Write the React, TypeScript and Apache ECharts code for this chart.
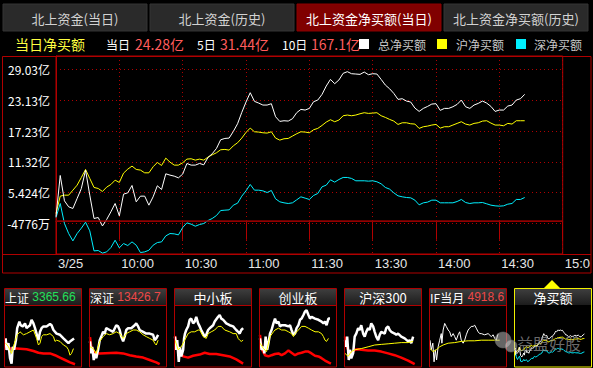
import React, { useEffect, useRef } from 'react';
import * as echarts from 'echarts';

// ---------- main chart data (亿元), sampled every 2 trading minutes from 9:30 ----------
const MAIN_MINUTES = Array.from({ length: 112 }, (_, i) => i * 2);
const TOTAL_NET = [
  0.8, 8.7, 3.83, 2.68, 2.36, 4.28, 6.2, 9.73, 4.92, 0.44, 0.63, -1.0, 0.25, 1.72, 3.32, 0.95,
  5.11, 5.37, 6.78, 3.64, 4.73, 4.73, 3.0, 4.6, 6.72, 6.01, 9.02, 8.77, 8.57, 8.25, 8.96, 11.0,
  10.69, 10.69, 11.01, 10.75, 12.16, 12.87, 13.89, 15.56, 15.81, 15.88, 17.16, 18.63, 20.81, 22.8, 24.59, 22.93,
  22.6, 22.22, 22.22, 22.48, 19.98, 19.08, 19.21, 19.15, 19.59, 20.75, 21.39, 21.26, 21.58, 22.86, 23.18, 24.27,
  25.87, 27.15, 26.32, 27.03, 28.31, 28.63, 28.24, 28.18, 28.11, 28.56, 28.05, 28.24, 28.18, 27.15, 26.06, 25.36,
  24.46, 23.31, 23.44, 22.99, 22.8, 21.64, 21.0, 21.58, 21.96, 22.41, 22.48, 21.2, 21.58, 21.58, 21.9, 22.35,
  23.18, 21.9, 21.58, 22.22, 22.54, 22.99, 22.6, 21.96, 21.0, 21.26, 21.26, 22.03, 22.22, 23.18, 23.44, 24.28,
];
const SH_NET = [
  1.4, 4.73, 4.92, 4.92, 5.88, 6.84, 8.32, 9.86, 8.13, 6.4, 6.2, 5.63, 6.46, 6.97, 7.8, 7.36,
  9.15, 9.92, 10.5, 9.86, 9.73, 9.21, 9.21, 10.37, 11.2, 10.62, 12.03, 11.26, 10.69, 10.69, 11.14, 11.84,
  11.91, 11.65, 11.84, 11.65, 12.23, 12.67, 13.06, 13.64, 13.7, 13.57, 14.4, 14.98, 15.88, 16.97, 17.8, 17.09,
  17.03, 16.9, 16.84, 17.09, 15.88, 15.49, 15.75, 15.81, 16.26, 16.71, 17.09, 17.03, 16.9, 17.48, 17.74, 18.31,
  18.95, 19.4, 19.02, 19.34, 20.17, 20.3, 20.17, 20.3, 20.55, 20.75, 20.62, 20.68, 20.75, 20.17, 19.85, 19.47,
  19.14, 18.5, 18.82, 18.82, 18.63, 18.57, 17.74, 18.06, 18.18, 18.38, 18.5, 17.8, 18.06, 18.06, 18.38, 18.7,
  19.02, 18.57, 18.38, 18.7, 18.82, 19.14, 19.21, 18.76, 18.38, 18.38, 18.25, 18.7, 18.57, 19.21, 19.21, 19.21,
];
const SZ_NET = [
  0.63, 3.32, -0.52, -2.45, -3.86, -2.45, -1.42, -0.27, -1.93, -5.78, -5.71, -6.2, -5.97, -5.14, -3.73, -5.2,
  -4.37, -4.75, -4.05, -4.69, -6.1, -5.97, -5.65, -4.69, -4.18, -4.05, -2.9, -2.45, -2.51, -2.7, -1.29, -0.4,
  -0.65, -1.04, -0.72, -0.52, 0.05, 0.44, 1.01, 1.97, 2.04, 2.1, 3.0, 3.38, 4.73, 5.75, 6.97, 5.88,
  5.88, 5.75, 5.43, 5.82, 4.22, 3.64, 3.45, 3.32, 3.45, 4.02, 4.6, 4.35, 4.09, 4.86, 5.24, 6.52,
  6.84, 7.87, 7.42, 7.93, 8.32, 8.32, 8.13, 7.68, 7.68, 7.68, 7.61, 7.68, 7.49, 7.1, 6.4, 6.08,
  5.37, 4.79, 4.6, 4.47, 4.41, 3.96, 3.06, 3.45, 3.58, 3.96, 3.96, 3.45, 3.45, 3.45, 3.45, 3.7,
  4.09, 3.51, 3.32, 3.45, 3.45, 3.51, 3.26, 3.0, 2.87, 2.81, 2.87, 3.19, 3.32, 4.09, 4.09, 4.47,
];

const X_TICK_LABELS = ['3/25', '10:00', '10:30', '11:00', '11:30', '13:30', '14:00', '14:30', '15:0'];
const Y_TICK_VALUES = [-0.4776, 5.424, 11.32, 17.23, 23.13, 29.03];
const Y_TICK_LABELS = ['-4776万', '5.424亿', '11.32亿', '17.23亿', '23.13亿', '29.03亿'];

const TABS = ['北上资金(当日)', '北上资金(历史)', '北上资金净买额(当日)', '北上资金净买额(历史)'];
const ACTIVE_TAB = 2;
const SUMMARY_TITLE = '当日净买额';
const SUMMARY_LABELS = ['当日', '5日', '10日'];
const SUMMARY_VALUES = ['24.28亿', '31.44亿', '167.1亿'];
const LEGEND_NAMES = ['总净买额', '沪净买额', '深净买额'];
const SERIES_COLORS = ['#ffffff', '#ffff00', '#00f0ff'];

// ---------- thumbnails: [minute, % of panel height] ----------
const SH_WHITE = [[2,46],[5,27],[11,38],[16,13],[21,4],[25,32],[29,27],[35,43],[39,63],[46,74],[50,68],[57,66],[64,71],[69,63],[75,66],[80,68],[85,77],[91,71],[96,63],[101,54],[107,43],[112,57],[117,63],[123,66],[133,66],[144,70],[149,68],[155,60],[165,54],[176,52],[187,46],[197,41],[203,38],[208,41],[221,46]];
const SH_YELLOW = [[2,38],[11,32],[21,21],[32,41],[39,52],[48,57],[59,52],[69,54],[80,57],[91,60],[101,46],[107,35],[112,38],[117,49],[123,52],[133,52],[144,54],[155,49],[160,41],[165,43],[176,41],[187,35],[197,32],[203,27],[208,18],[213,21],[219,29]];
const SH_RED = [[1,46],[5,32],[16,29],[37,29],[69,28],[91,25],[107,22],[123,21],[144,21],[160,18],[176,14],[192,10],[208,6],[224,3]];

const SZ_WHITE = [[0,41],[4,21],[7,32],[12,10],[16,21],[20,13],[26,27],[31,43],[36,49],[42,57],[47,54],[52,63],[63,60],[74,57],[84,68],[90,66],[95,60],[100,49],[106,41],[111,49],[116,60],[122,63],[132,63],[143,68],[148,71],[154,66],[159,60],[170,57],[180,54],[191,54],[202,52],[207,43],[212,46],[218,52]];
const SZ_YELLOW = [[0,32],[10,29],[20,21],[31,41],[42,49],[52,54],[63,52],[74,54],[84,57],[95,54],[106,46],[116,54],[127,57],[138,60],[148,60],[159,57],[170,52],[180,49],[191,46],[202,43],[207,38],[212,35],[218,43]];
const SZ_RED = [[0,48],[4,32],[15,22],[31,21],[84,22],[106,21],[127,18],[148,16],[170,14],[191,10],[212,6],[223,3]];

const SME_WHITE = [[0,49],[4,27],[7,43],[12,7],[16,32],[20,16],[26,27],[29,46],[32,54],[36,60],[42,66],[47,77],[52,79],[58,71],[63,74],[68,82],[74,71],[79,66],[84,60],[90,54],[95,49],[100,52],[106,60],[111,63],[122,68],[127,74],[138,82],[143,85],[148,79],[154,77],[164,71],[175,68],[186,66],[191,63],[196,60],[202,57],[207,54],[212,60],[218,63]];
const SME_YELLOW = [[0,43],[10,27],[20,32],[31,43],[42,54],[52,57],[63,57],[74,60],[79,60],[90,49],[100,46],[106,54],[116,57],[127,60],[138,66],[148,66],[159,60],[175,57],[186,54],[196,54],[202,46],[207,43],[212,41],[218,43]];
const SME_RED = [[0,50],[4,38],[15,24],[26,16],[42,14],[58,17],[79,19],[95,22],[111,20],[132,20],[154,18],[175,16],[196,11],[218,4]];

const GEM_WHITE = [[0,46],[5,27],[11,32],[14,21],[18,49],[23,27],[27,38],[32,54],[37,60],[43,71],[48,79],[53,71],[59,74],[64,66],[69,68],[80,68],[91,66],[96,68],[101,60],[107,52],[112,54],[117,63],[123,68],[128,77],[133,79],[139,85],[144,91],[149,93],[155,85],[160,79],[165,82],[176,79],[187,77],[197,74],[203,71],[208,74],[213,68],[219,79],[224,79]];
const GEM_YELLOW = [[0,38],[11,29],[21,24],[32,49],[43,57],[48,60],[59,63],[69,60],[80,60],[91,57],[101,54],[107,49],[112,54],[123,60],[133,66],[144,66],[155,63],[165,60],[176,57],[187,57],[197,54],[203,49],[208,43],[213,41],[219,46]];
const GEM_RED = [[0,52],[5,29],[16,18],[27,16],[37,18],[48,20],[59,21],[69,18],[80,21],[91,26],[101,22],[112,18],[123,21],[133,22],[144,24],[155,24],[165,21],[176,17],[187,16],[197,13],[208,9],[219,6],[227,4]];

const HS300_WHITE = [[0,43],[4,32],[7,49],[12,10],[16,27],[20,13],[26,21],[31,49],[36,54],[42,63],[47,60],[52,68],[58,54],[63,49],[68,57],[74,63],[79,60],[84,71],[90,66],[95,57],[100,49],[106,43],[111,52],[116,57],[127,54],[132,63],[138,66],[143,60],[148,57],[159,54],[164,52],[170,54],[180,49],[191,46],[202,41],[207,43],[212,38],[218,49]];
const HS300_YELLOW = [[0,21],[10,16],[20,24],[31,27],[52,29],[74,32],[95,35],[116,36],[138,37],[159,38],[180,39],[202,39],[218,41]];
const HS300_RED = [[0,49],[4,35],[10,27],[15,16],[20,21],[31,27],[42,28],[52,27],[74,26],[95,26],[116,24],[138,21],[159,18],[180,14],[202,9],[223,3]];

const IF_WHITE = [[0,43],[4,27],[9,38],[13,7],[17,27],[21,10],[26,32],[31,43],[36,54],[38,38],[42,60],[47,71],[52,66],[58,60],[63,57],[68,49],[74,54],[79,49],[84,43],[90,52],[95,57],[100,43],[106,38],[111,43],[116,52],[122,60],[127,63],[132,66],[138,66],[143,68],[148,63],[154,57],[159,54],[164,54],[175,52],[186,54],[196,49],[202,52],[207,46],[212,43],[218,54]];
const IF_YELLOW = [[0,29],[10,24],[20,27],[31,32],[42,35],[58,38],[79,39],[100,41],[122,42],[143,42],[164,43],[186,43],[207,43],[223,43]];

const THUMB_NAMES = ['上证', '深证', '中小板', '创业板', '沪深300', 'IF当月', '净买额'];
const THUMB_QUOTES = ['3365.66', '13426.78', '', '', '', '4918.6', ''];
const THUMB_QUOTE_COLORS = ['#22e05a', '#ee4848', '', '', '', '#ee4848', ''];
const WATERMARK = '益盟好股';

const RED_LINE = '#b00000';
const GRID_DOT = '#b00000';
const CJK = "'Noto Sans CJK SC', 'Noto Sans', sans-serif";
const LATIN = "'Liberation Sans', Arial, sans-serif";

export default function App() {
  const ref = useRef<HTMLDivElement>(null);

  useEffect(() => {
    document.body.style.margin = '0';
    document.body.style.background = '#000';
    const chart = echarts.init(ref.current!, null, { renderer: 'svg' });

    const zip = (vals: number[]) => MAIN_MINUTES.map((m, i) => [m, vals[i]]);
    const yMin = Y_TICK_VALUES[0] - 5.9;

    const grids: any[] = [
      { left: 56, top: 56, width: 512, height: 198, show: true, borderColor: RED_LINE, borderWidth: 1 },
    ];
    const xAxes: any[] = [
      {
        type: 'value', gridIndex: 0, min: 0, max: 240, interval: 30,
        axisLine: { show: true, lineStyle: { color: RED_LINE } },
        axisTick: { show: true, length: 19, lineStyle: { color: RED_LINE } },
        axisLabel: {
          color: '#e6e6e6', fontSize: 13, fontFamily: LATIN, align: 'left', margin: 3,
          padding: [0, 0, 0, 2], showMinLabel: true, showMaxLabel: true,
          formatter: (v: number) => X_TICK_LABELS[Math.round(v / 30)] ?? '',
        },
        splitLine: { show: true, lineStyle: { color: GRID_DOT, type: [1, 3], width: 1 } },
      },
    ];
    const yAxes: any[] = [
      {
        type: 'value', gridIndex: 0, min: yMin, max: 31.64, interval: 5.9,
        axisLine: { show: true, lineStyle: { color: RED_LINE } },
        axisTick: { show: false },
        axisLabel: {
          color: '#ffffff', fontSize: 12, fontFamily: CJK, margin: 6, showMaxLabel: true, showMinLabel: true,
          formatter: (v: number) => {
            const idx = Y_TICK_VALUES.findIndex((t) => Math.abs(t - v) < 0.05);
            return idx >= 0 ? Y_TICK_LABELS[idx] : '';
          },
        },
        splitLine: { show: true, lineStyle: { color: GRID_DOT, type: [1, 3], width: 1 } },
      },
    ];
    const series: any[] = [
      {
        name: LEGEND_NAMES[2], type: 'line', data: zip(SZ_NET), symbol: 'none', xAxisIndex: 0, yAxisIndex: 0,
        lineStyle: { color: SERIES_COLORS[2], width: 1 }, silent: true,
      },
      {
        name: LEGEND_NAMES[1], type: 'line', data: zip(SH_NET), symbol: 'none', xAxisIndex: 0, yAxisIndex: 0,
        lineStyle: { color: SERIES_COLORS[1], width: 1 }, silent: true,
      },
      {
        name: LEGEND_NAMES[0], type: 'line', data: zip(TOTAL_NET), symbol: 'none', xAxisIndex: 0, yAxisIndex: 0,
        lineStyle: { color: SERIES_COLORS[0], width: 1 }, silent: true,
        markLine: {
          silent: true, symbol: ['none', 'none'], label: { show: false },
          lineStyle: { color: '#8a0000', type: 'solid', width: 1.5 },
          data: [{ yAxis: 0 }],
        },
      },
    ];

    const thumbLines: { data: number[][]; color: string; width: number }[][] = [
      [{ data: SH_RED, color: '#ff0000', width: 2.5 }, { data: SH_WHITE, color: '#ffffff', width: 2.5 }, { data: SH_YELLOW, color: '#ffff00', width: 1 }],
      [{ data: SZ_RED, color: '#ff0000', width: 2.5 }, { data: SZ_WHITE, color: '#ffffff', width: 2.5 }, { data: SZ_YELLOW, color: '#ffff00', width: 1 }],
      [{ data: SME_RED, color: '#ff0000', width: 2.5 }, { data: SME_WHITE, color: '#ffffff', width: 2.5 }, { data: SME_YELLOW, color: '#ffff00', width: 1 }],
      [{ data: GEM_RED, color: '#ff0000', width: 2.5 }, { data: GEM_WHITE, color: '#ffffff', width: 2.5 }, { data: GEM_YELLOW, color: '#ffff00', width: 1 }],
      [{ data: HS300_RED, color: '#ff0000', width: 2.5 }, { data: HS300_WHITE, color: '#ffffff', width: 2.5 }, { data: HS300_YELLOW, color: '#ffff00', width: 1 }],
      [{ data: IF_WHITE, color: '#ffffff', width: 1 }, { data: IF_YELLOW, color: '#ffff00', width: 1 }],
      [{ data: zip(SZ_NET), color: SERIES_COLORS[2], width: 1 }, { data: zip(SH_NET), color: SERIES_COLORS[1], width: 1 }, { data: zip(TOTAL_NET), color: SERIES_COLORS[0], width: 1 }],
    ];

    const graphics: any[] = [];
    const txt = (x: number, y: number, text: string, fill: string, fontSize: number, fontFamily: string, align = 'left', extra: any = {}) => ({
      type: 'text', x, y, silent: true, z: 10,
      style: { text, fill, fontSize, fontFamily, align, textAlign: align, verticalAlign: 'middle', textVerticalAlign: 'middle', ...extra },
    });

    // tabs
    TABS.forEach((t, i) => {
      const x = 3 + 147 * i;
      graphics.push({ type: 'rect', silent: true, shape: { x, y: 4, width: 144, height: 27 },
        style: { fill: i === ACTIVE_TAB ? '#800000' : '#2a2a2a', stroke: i === ACTIVE_TAB ? '#8c0000' : '#343434', lineWidth: 1 } });
      graphics.push(txt(x + 72, 18, t, i === ACTIVE_TAB ? '#ffffff' : '#d2d2d2', 13, CJK, 'center'));
    });

    // summary row
    graphics.push(txt(15, 44, SUMMARY_TITLE, '#ffff40', 14, CJK));
    const labelX = [106, 197, 282];
    const valueX = [135, 220, 311];
    SUMMARY_LABELS.forEach((l, i) => {
      graphics.push(txt(labelX[i], 44, l, '#ffffff', 12, CJK));
      graphics.push(txt(valueX[i], 44, SUMMARY_VALUES[i], '#ff5c5c', 14, CJK));
    });
    const legSq = [359, 437, 516];
    const legTx = [378, 456, 534];
    LEGEND_NAMES.forEach((n, i) => {
      graphics.push({ type: 'rect', silent: true, shape: { x: legSq[i], y: 39, width: 10, height: 10 }, style: { fill: SERIES_COLORS[i] } });
      graphics.push(txt(legTx[i], 44, n, '#c8c8c8', 12, CJK));
    });

    // main frame
    graphics.push({ type: 'rect', silent: true, z: 5, shape: { x: 2.5, y: 56.5, width: 588.5, height: 216.5 }, style: { fill: 'none', stroke: RED_LINE, lineWidth: 1 } });
    graphics.push({ type: 'line', silent: true, z: 5, shape: { x1: 2, y1: 254.5, x2: 591, y2: 254.5 }, style: { stroke: RED_LINE, lineWidth: 1 } });

    // thumbnails
    THUMB_NAMES.forEach((name, i) => {
      const bx = 4 + 85 * i;
      const selected = i === THUMB_NAMES.length - 1;
      const border = selected ? '#f0f000' : RED_LINE;
      grids.push({ left: bx + 1, top: 306, width: 75, height: 60 });
      xAxes.push({ type: 'value', gridIndex: i + 1, min: 0, max: 240, show: false });
      yAxes.push({ type: 'value', gridIndex: i + 1, min: selected ? -11 : 0, max: selected ? 55 : 100, show: false });
      thumbLines[i].forEach((l) => {
        series.push({ type: 'line', xAxisIndex: i + 1, yAxisIndex: i + 1, data: l.data, symbol: 'none', silent: true,
          lineStyle: { color: l.color, width: l.width } });
      });
      graphics.push({ type: 'rect', silent: true, z: 4, shape: { x: bx + 1, y: 289, width: 76, height: 16 },
        style: { fill: new echarts.graphic.LinearGradient(0, 0, 0, 1, [{ offset: 0, color: '#3e3e3e' }, { offset: 1, color: '#1c1c1c' }]) } });
      if (!selected) {
        graphics.push({ type: 'line', silent: true, z: 5, shape: { x1: bx, y1: 305.5, x2: bx + 77, y2: 305.5 }, style: { stroke: border, lineWidth: 1 } });
      }
      graphics.push({ type: 'rect', silent: true, z: 6, shape: { x: bx + 0.5, y: 288.5, width: 77, height: 78.5 },
        style: { fill: 'none', stroke: border, lineWidth: 1 } });
      if (THUMB_QUOTES[i]) {
        graphics.push({
          type: 'text', x: bx + 1, y: 297, silent: true, z: 10,
          style: {
            text: `{n|${name}} {q|${THUMB_QUOTES[i]}}`,
            rich: {
              n: { fill: '#ffffff', fontSize: 12, fontFamily: CJK },
              q: { fill: THUMB_QUOTE_COLORS[i], fontSize: 12, fontFamily: LATIN },
            },
            width: 76, overflow: 'truncate', ellipsis: '',
            align: 'left', textAlign: 'left', verticalAlign: 'middle', textVerticalAlign: 'middle',
          },
        });
      } else {
        graphics.push(txt(bx + 39, 297, name, '#ffffff', 13, CJK, 'center'));
      }
    });

    // selection marker
    graphics.push({ type: 'polygon', silent: true, shape: { points: [[544, 288], [560, 288], [552, 280]] }, style: { fill: '#ffff00' } });

    // watermark
    graphics.push({ type: 'circle', silent: true, z: 20, shape: { cx: 503, cy: 340, r: 8 }, style: { fill: '#b8b8b8', opacity: 0.55, stroke: '#666', lineWidth: 1 } });
    graphics.push({ type: 'circle', silent: true, z: 21, shape: { cx: 511, cy: 346, r: 6 }, style: { fill: '#c8c8c8', opacity: 0.55, stroke: '#666', lineWidth: 1 } });
    const wm = txt(517, 343, WATERMARK, '#9a9a9a', 16, CJK);
    graphics.push({ ...wm, z: 20, style: { ...wm.style, opacity: 0.7 } });

    chart.setOption({
      animation: false,
      backgroundColor: '#000000',
      grid: grids,
      xAxis: xAxes,
      yAxis: yAxes,
      series,
      graphic: { elements: graphics },
    });

    return () => chart.dispose();
  }, []);

  return <div ref={ref} style={{ position: 'absolute', left: 0, top: 0, width: 593, height: 368, background: '#000' }} />;
}
